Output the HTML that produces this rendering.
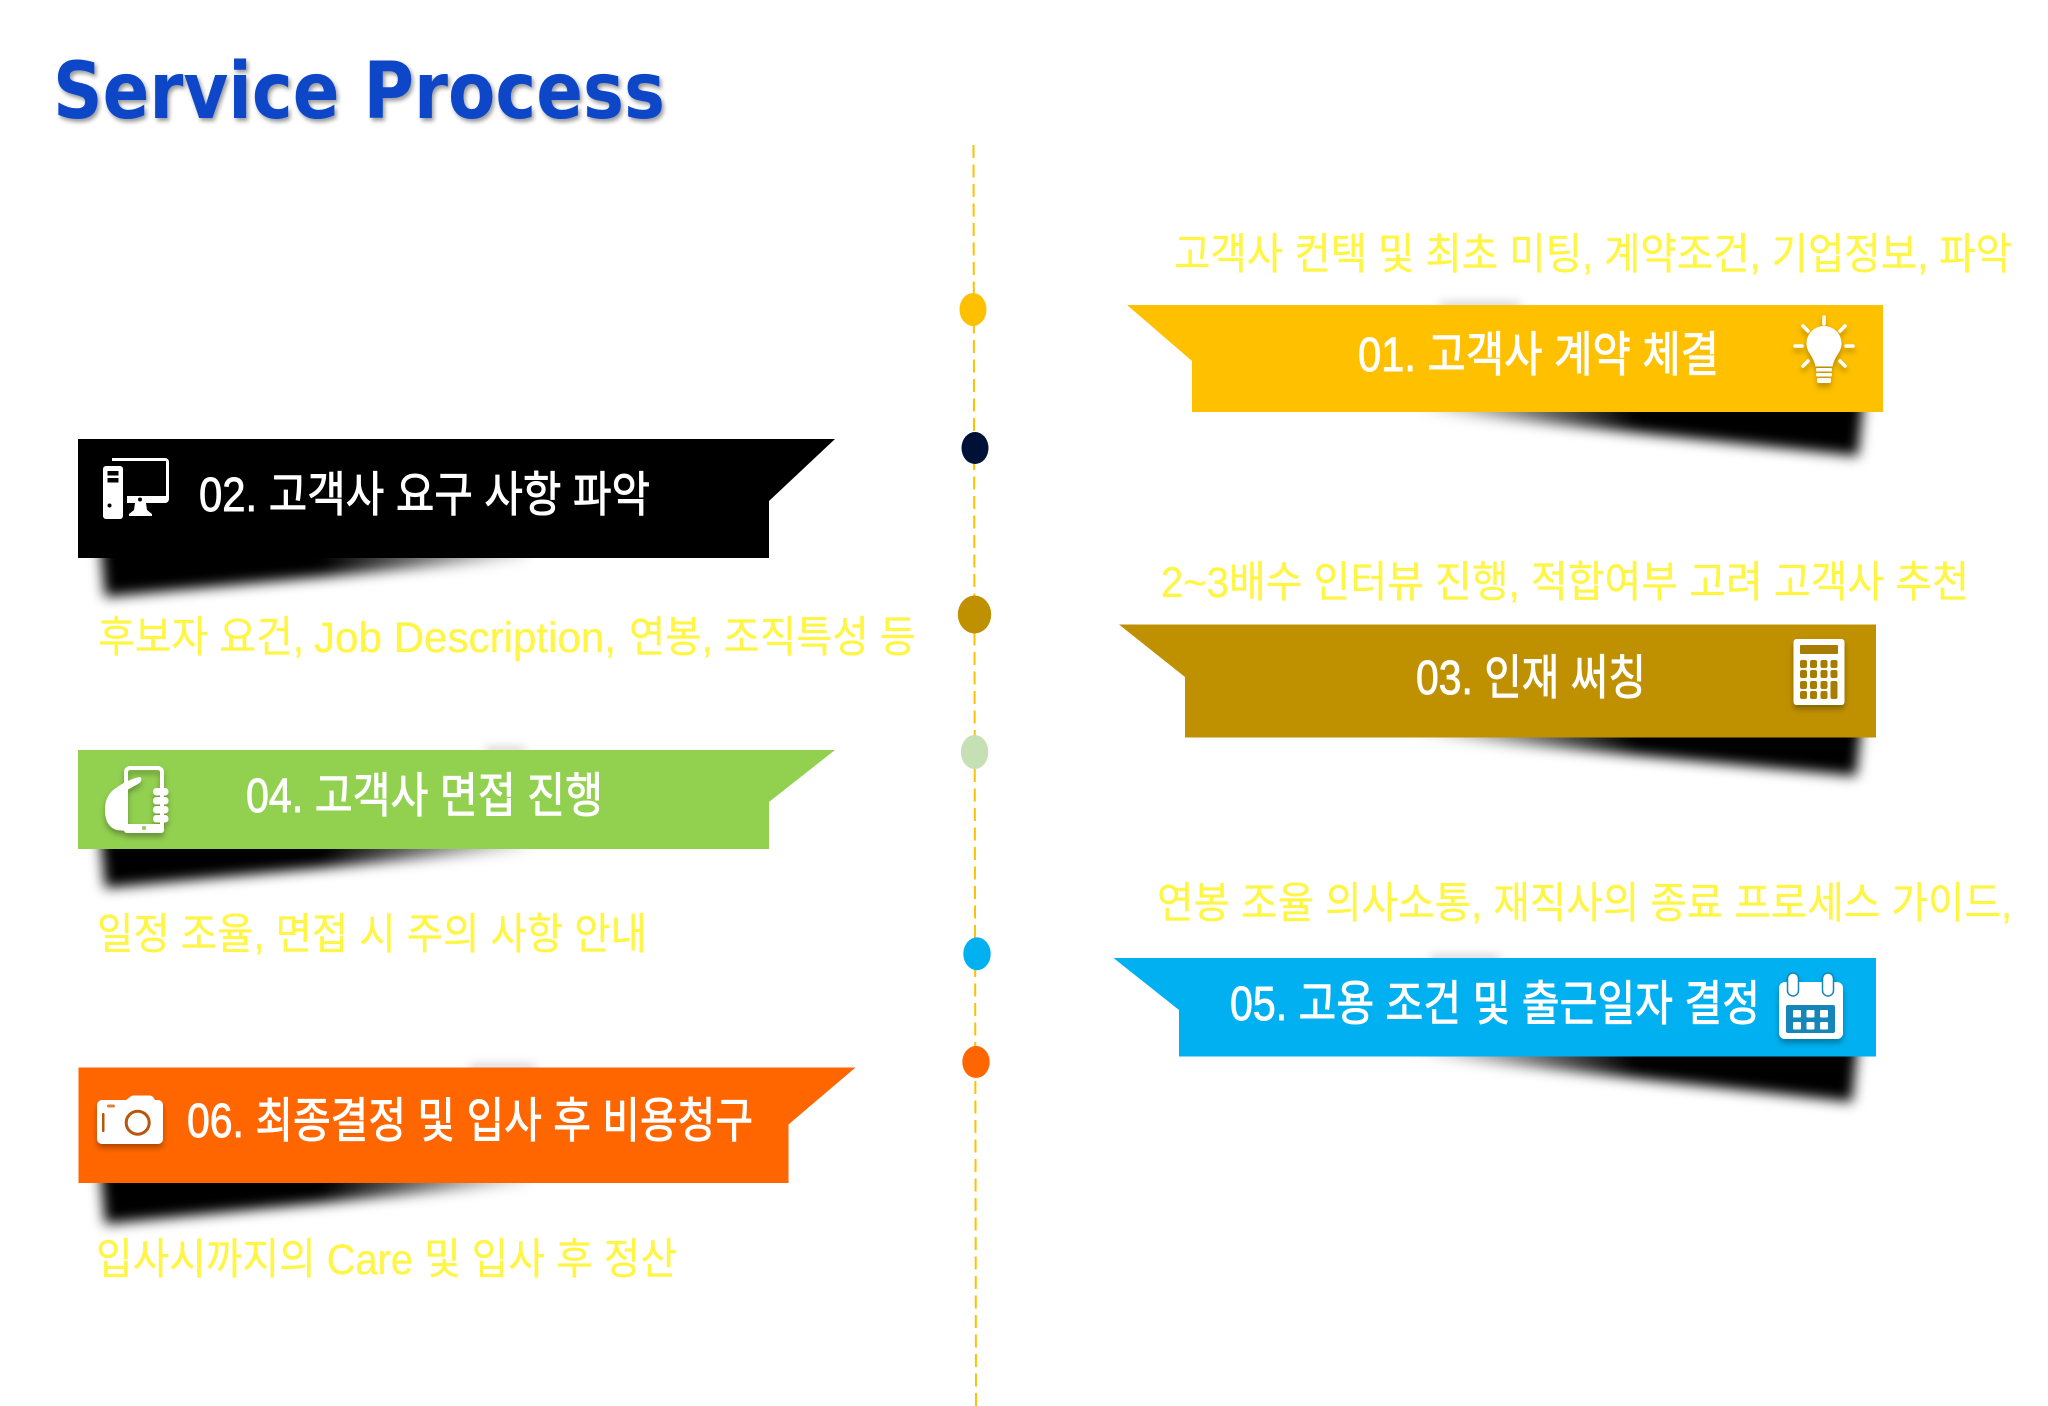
<!DOCTYPE html>
<html><head><meta charset="utf-8"><title>Service Process</title>
<style>
html,body{margin:0;padding:0;background:#fff;width:2048px;height:1406px;overflow:hidden}
svg{display:block}
text{font-family:"Liberation Sans","Noto Sans CJK KR",sans-serif}
.h{fill:#fff;font-size:48px;stroke:#fff;stroke-width:.9px}
.d{fill:#FFF545;font-size:43px;stroke:#FFF545;stroke-width:.35px}
</style></head><body>
<svg width="2048" height="1406" viewBox="0 0 2048 1406" xmlns="http://www.w3.org/2000/svg">
<defs>
<filter id="b" x="-20%" y="-60%" width="140%" height="220%"><feGaussianBlur stdDeviation="6.5"/></filter>
<filter id="bf" x="-40%" y="-600%" width="180%" height="1300%"><feGaussianBlur stdDeviation="5"/></filter>
<filter id="ds" x="-30%" y="-30%" width="160%" height="160%"><feDropShadow dx="0" dy="4" stdDeviation="3" flood-color="#000" flood-opacity=".3"/></filter>
<filter id="ts" x="-5%" y="-20%" width="110%" height="140%"><feDropShadow dx="2" dy="3" stdDeviation="2" flood-color="#000" flood-opacity=".4"/></filter>
<linearGradient id="gl" gradientUnits="userSpaceOnUse" x1="100" y1="0" x2="545" y2="0"><stop offset="0" stop-color="#000"/><stop offset=".5" stop-color="#000"/><stop offset="1" stop-color="#000" stop-opacity="0"/></linearGradient>
<linearGradient id="gr" gradientUnits="userSpaceOnUse" x1="1410" y1="0" x2="1860" y2="0"><stop offset="0" stop-color="#000" stop-opacity="0"/><stop offset=".5" stop-color="#000"/><stop offset="1" stop-color="#000"/></linearGradient>
</defs>

<text x="53" y="118" font-size="78" font-weight="bold" fill="#0A46C8" textLength="612" lengthAdjust="spacingAndGlyphs" filter="url(#ts)" style="font-family:'DejaVu Sans',sans-serif">Service Process</text>

<line x1="973.5" y1="145" x2="976" y2="1406" stroke="#FFC000" stroke-width="2" stroke-dasharray="13 6.5"/>
<ellipse cx="973" cy="309.5" rx="13.5" ry="16.5" fill="#FFC000"/>
<ellipse cx="975" cy="448" rx="13.5" ry="16" fill="#001138"/>
<ellipse cx="974.5" cy="614.5" rx="16.7" ry="19" fill="#BF9000"/>
<ellipse cx="974.6" cy="752" rx="13.7" ry="17" fill="#C5E0B4"/>
<ellipse cx="977" cy="953.8" rx="13.7" ry="16.4" fill="#00B0F0"/>
<ellipse cx="976" cy="1062" rx="13.7" ry="16" fill="#FF6600"/>

<!-- shadows -->
<g filter="url(#b)">
<polygon fill="url(#gr)" points="1400,398 1864,398 1858,456 1420,410"/>
<polygon fill="url(#gr)" points="1400,723 1862,723 1856,776 1420,735"/>
<polygon fill="url(#gr)" points="1395,1042 1858,1042 1852,1102 1412,1054"/>
<polygon fill="url(#gl)" points="100,544 545,544 525,558 105,597"/>
<polygon fill="url(#gl)" points="100,835 545,835 525,849 105,888"/>
<polygon fill="url(#gl)" points="100,1169 545,1169 525,1183 105,1224"/>
</g>
<g fill="#555" filter="url(#bf)" opacity=".35">
<rect x="1440" y="303" width="80" height="6"/>
<rect x="1430" y="956" width="70" height="6"/>
<rect x="485" y="748" width="40" height="6"/>
<rect x="470" y="1065" width="65" height="6"/>
</g>

<!-- banners -->
<polygon points="1127,305 1883,305 1883,412 1192,412 1192,361" fill="#FFC000"/>
<polygon points="78,439 835,439 769,501 769,558 78,558" fill="#000"/>
<polygon points="1119,624.5 1876,624.5 1876,737.5 1185,737.5 1185,677" fill="#BF9000"/>
<polygon points="78,750 835,750 769,802 769,849 78,849" fill="#92D050"/>
<polygon points="1113.5,958 1876,958 1876,1056.5 1179,1056.5 1179,1010" fill="#00B0F0"/>
<polygon points="78.5,1067.5 855.5,1067.5 788.5,1124.5 788.5,1183 78.5,1183" fill="#FF6600"/>

<!-- banner labels -->
<text class="h" x="1358" y="371" textLength="361" lengthAdjust="spacingAndGlyphs">01. 고객사 계약 체결</text>
<text class="h" x="199" y="511" textLength="451" lengthAdjust="spacingAndGlyphs">02. 고객사 요구 사항 파악</text>
<text class="h" x="1416" y="694" textLength="230" lengthAdjust="spacingAndGlyphs">03. 인재 써칭</text>
<text class="h" x="246" y="812" textLength="357" lengthAdjust="spacingAndGlyphs">04. 고객사 면접 진행</text>
<text class="h" x="1230" y="1020" textLength="530" lengthAdjust="spacingAndGlyphs">05. 고용 조건 및 출근일자 결정</text>
<text class="h" x="187" y="1137" textLength="566" lengthAdjust="spacingAndGlyphs">06. 최종결정 및 입사 후 비용청구</text>

<!-- descriptions -->
<text class="d" x="1174" y="269" textLength="838" lengthAdjust="spacingAndGlyphs">고객사 컨택 및 최초 미팅, 계약조건, 기업정보, 파악</text>
<text class="d" x="98" y="652" textLength="206" lengthAdjust="spacingAndGlyphs">후보자 요건,</text>
<text class="d" x="314" y="652" textLength="302" lengthAdjust="spacingAndGlyphs">Job Description,</text>
<text class="d" x="629" y="652" textLength="287" lengthAdjust="spacingAndGlyphs">연봉, 조직특성 등</text>
<text class="d" x="1161" y="597" textLength="808" lengthAdjust="spacingAndGlyphs">2~3배수 인터뷰 진행, 적합여부 고려 고객사 추천</text>
<text class="d" x="97" y="949" textLength="550" lengthAdjust="spacingAndGlyphs">일정 조율, 면접 시 주의 사항 안내</text>
<text class="d" x="1157" y="918" textLength="855" lengthAdjust="spacingAndGlyphs">연봉 조율 의사소통, 재직사의 종료 프로세스 가이드,</text>
<text class="d" x="96" y="1274" textLength="581" lengthAdjust="spacingAndGlyphs">입사시까지의 Care 및 입사 후 정산</text>

<!-- bulb -->
<g filter="url(#ds)" fill="#fff">
<path d="M1824 326a17.500 17.500 0 0 1 17.500 17.500c0 9-7 12-9 23h-17c-2-11-9-14-9-23A17.500 17.500 0 0 1 1824 326z"/>
<rect x="1816" y="368" width="16" height="3.500" rx="1.500"/><rect x="1816" y="373" width="16" height="3.500" rx="1.500"/><rect x="1817" y="378" width="14" height="5" rx="2"/>
<g stroke="#fff" stroke-width="3.500" stroke-linecap="round">
<line x1="1824" y1="317" x2="1824" y2="324"/><line x1="1803" y1="326" x2="1808" y2="331"/><line x1="1845" y1="326" x2="1840" y2="331"/>
<line x1="1795" y1="346" x2="1802" y2="346"/><line x1="1846" y1="346" x2="1853" y2="346"/><line x1="1803" y1="366" x2="1808" y2="361"/><line x1="1845" y1="366" x2="1840" y2="361"/>
</g></g>

<!-- computer -->
<g fill="#fff">
<rect x="103" y="466" width="20" height="53" rx="3"/>
<rect x="107.500" y="471" width="11" height="4.500" fill="#000"/><rect x="107.500" y="478" width="11" height="4.500" fill="#000"/>
<circle cx="109.500" cy="505.500" r="2" fill="#000"/>
<path d="M112 458h53a4 4 0 0 1 4 4v37a4 4 0 0 1-4 4h-38v-7h39v-35h-54z"/>
<circle cx="140" cy="499.500" r="2" fill="#000"/>
<path d="M135 503h11l1 7 5 4v2h-23v-2l5-4z"/>
</g>

<!-- calculator -->
<g filter="url(#ds)">
<rect x="1793.500" y="639" width="51" height="66" rx="3" fill="#fff"/>
<g fill="#A67D00">
<rect x="1800" y="645" width="38" height="9" rx="1"/>
<rect x="1800" y="660" width="7" height="8" rx="2"/><rect x="1810" y="660" width="7" height="8" rx="2"/><rect x="1820.500" y="660" width="7" height="8" rx="2"/><rect x="1830.500" y="660" width="7" height="8" rx="2"/>
<rect x="1800" y="670" width="7" height="8" rx="2"/><rect x="1810" y="670" width="7" height="8" rx="2"/><rect x="1820.500" y="670" width="7" height="8" rx="2"/><rect x="1830.500" y="670" width="7" height="8" rx="2"/>
<rect x="1800" y="681" width="7" height="8" rx="2"/><rect x="1810" y="681" width="7" height="8" rx="2"/><rect x="1820.500" y="681" width="7" height="8" rx="2"/>
<rect x="1830.500" y="681" width="7" height="18" rx="2"/>
<rect x="1800" y="691" width="7" height="8" rx="2"/><rect x="1810" y="691" width="7" height="8" rx="2"/><rect x="1820.500" y="691" width="7" height="8" rx="2"/>
</g></g>

<!-- phone -->
<g filter="url(#ds)">
<rect x="126" y="768" width="36" height="63" rx="4" fill="none" stroke="#fff" stroke-width="4"/>
<rect x="124" y="824" width="40" height="9" rx="3" fill="#fff"/>
<circle cx="144" cy="828" r="2" fill="#92D050"/>
<path d="M140 777c-6 1-16 5-24 11-8 5-11 13-11 22 0 12 5 18 12 20l10 1v-41l9-5c5-2 7-6 4-8z" fill="#fff"/>
<g fill="#fff">
<rect x="153" y="788" width="15.500" height="7.500" rx="3.500"/><rect x="153" y="797" width="15.500" height="7.500" rx="3.500"/><rect x="153" y="806" width="15.500" height="7.500" rx="3.500"/><rect x="153" y="815" width="15.500" height="7.500" rx="3.500"/>
</g></g>

<!-- calendar -->
<g filter="url(#ds)">
<path d="M1785 982h52a6 6 0 0 1 6 6v45a6 6 0 0 1-6 6h-52a6 6 0 0 1-6-6v-45a6 6 0 0 1 6-6z" fill="#fff"/>
<rect x="1787.500" y="973" width="11" height="23" rx="5.500" fill="#fff" stroke="#1286B8" stroke-width="1.500"/>
<rect x="1822.500" y="973" width="11" height="23" rx="5.500" fill="#fff" stroke="#1286B8" stroke-width="1.500"/>
<rect x="1786" y="1005" width="49" height="28" rx="2" fill="#1286B8"/>
<g fill="#fff">
<rect x="1793" y="1010" width="8" height="7.500" rx="1"/><rect x="1806.500" y="1010" width="8" height="7.500" rx="1"/><rect x="1820" y="1010" width="8" height="7.500" rx="1"/>
<rect x="1793" y="1022" width="8" height="7.500" rx="1"/><rect x="1806.500" y="1022" width="8" height="7.500" rx="1"/><rect x="1820" y="1022" width="8" height="7.500" rx="1"/>
</g></g>

<!-- camera -->
<g filter="url(#ds)">
<path d="M102 1100h24l4-3c1-1 2-1.500 4-1.500h15c3 0 4 1 6 4.500h3a5 5 0 0 1 5 5v34a5 5 0 0 1-5 5h-56a5 5 0 0 1-5-5v-34a5 5 0 0 1 5-5z" fill="#fff"/>
<circle cx="137.700" cy="1122.700" r="11.500" fill="#fff" stroke="#B8560F" stroke-width="3"/>
<rect x="102" y="1113" width="2.500" height="19" rx="1" fill="#B8560F"/>
<rect x="107" y="1104.500" width="8" height="3" rx="1.500" fill="#D9823F"/>
</g>
</svg>
</body></html>
